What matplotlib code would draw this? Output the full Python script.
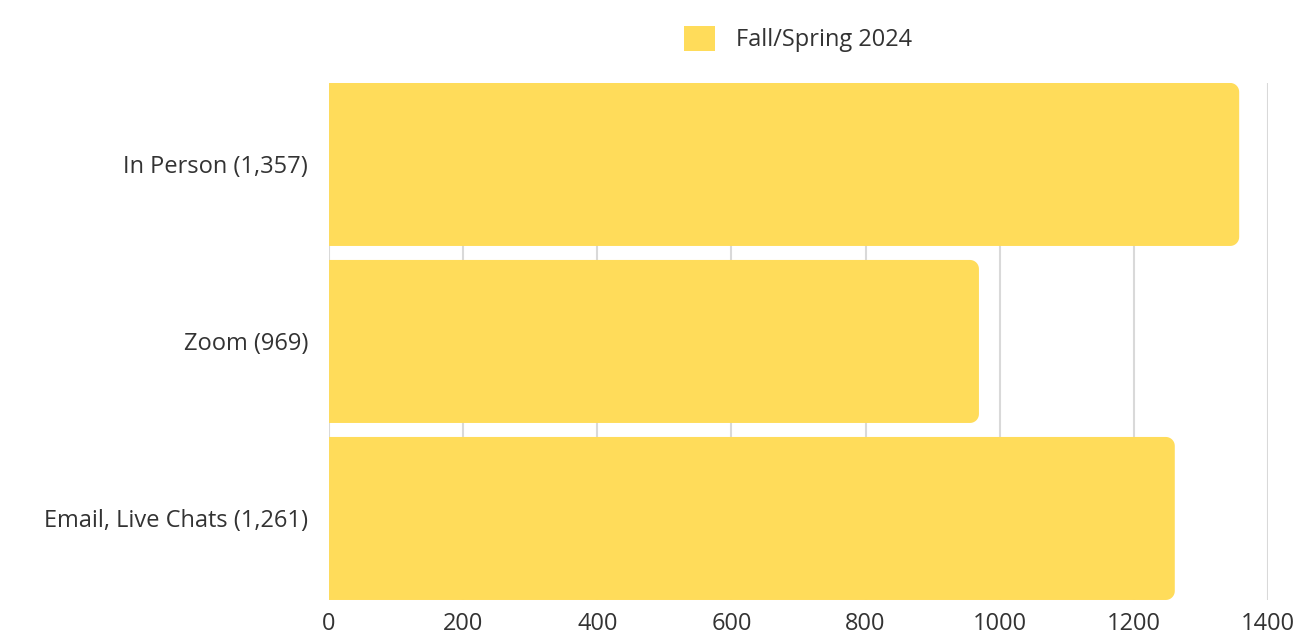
import numpy as np
import matplotlib.pyplot as plt
from matplotlib.path import Path
from matplotlib.patches import PathPatch, Patch

# data
categories = ["In Person (1,357)", "Zoom (969)", "Email, Live Chats (1,261)"]
values = [1357, 969, 1261]
series_name = "Fall/Spring 2024"
x_ticks = [0, 200, 400, 600, 800, 1000, 1200, 1400]

bar_color = "#FFDC5A"
text_color = "#333333"
grid_color = "#D9D9D9"

plt.rcParams['font.family'] = ['Open Sans', 'DejaVu Sans']

fig = plt.figure(figsize=(12.98, 6.38), dpi=100)
ax = fig.add_axes([0.2535, 0.0596, 0.7234, 0.8104])

bar_h = 0.921
ax.set_xlim(0, 1400)
ax.set_ylim(len(values) - 1 + bar_h / 2, -bar_h / 2)


def rounded_bar(ax, y, w, h, r_px=9):
    # rectangle with rounded right corners, radius given in pixels
    fig.canvas.draw()
    bb = ax.get_window_extent()
    x0, x1 = ax.get_xlim()
    y1, y0 = ax.get_ylim()
    rx = r_px * (x1 - x0) / bb.width
    ry = r_px * abs(y1 - y0) / bb.height
    top, bot = y - h / 2, y + h / 2
    t = np.linspace(0, np.pi / 2, 12)
    verts = [(0, bot), (0, top), (w - rx, top)]
    # top-right corner
    cx, cy = w - rx, top + ry
    verts += [(cx + rx * np.sin(a), cy - ry * np.cos(a)) for a in t]
    # bottom-right corner
    cx, cy = w - rx, bot - ry
    verts += [(cx + rx * np.cos(a), cy + ry * np.sin(a)) for a in t]
    verts += [(0, bot)]
    codes = [Path.MOVETO] + [Path.LINETO] * (len(verts) - 2) + [Path.CLOSEPOLY]
    ax.add_patch(PathPatch(Path(verts, codes), facecolor=bar_color,
                           edgecolor="none", zorder=3))


for i, v in enumerate(values):
    rounded_bar(ax, i, v, bar_h)

ax.set_xticks(x_ticks)
ax.set_yticks(range(len(categories)))
ax.set_yticklabels(categories)
ax.grid(axis="x", color=grid_color, linewidth=1.5, zorder=0)
ax.tick_params(length=0, labelsize=17, labelcolor=text_color)
ax.tick_params(axis="y", pad=15)
ax.tick_params(axis="x", pad=9)
for s in ax.spines.values():
    s.set_visible(False)

handle = Patch(facecolor=bar_color, edgecolor="none")
ax.legend([handle], [series_name], loc="center", bbox_to_anchor=(0.5, 1.085),
          frameon=False, fontsize=17, labelcolor=text_color,
          handlelength=1.3, handleheight=1.3, handletextpad=0.9)

fig.savefig("out.png", dpi=100)
